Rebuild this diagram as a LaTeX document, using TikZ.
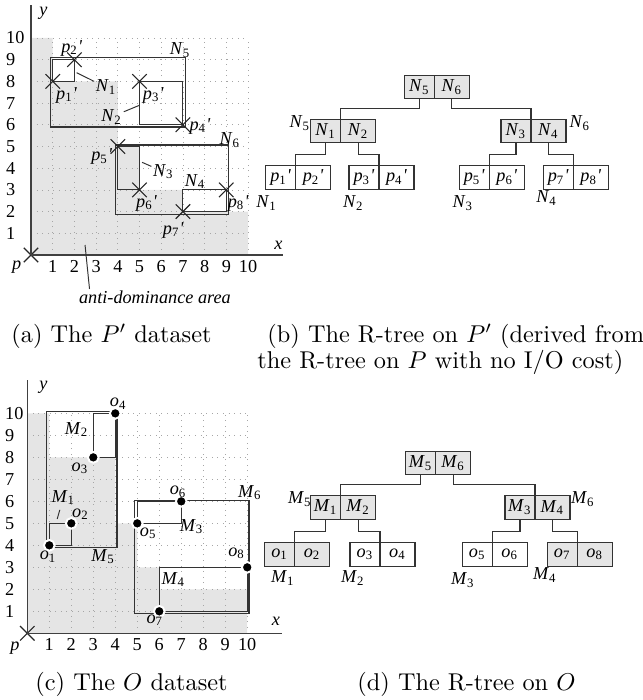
\documentclass[tikz,border=0pt]{standalone}
\usepackage{fontspec}
\newfontfamily\timesfont{Liberation Serif}
\usetikzlibrary{positioning,shapes.misc}
\newcommand\lab[2]{\textit{#1}\textsubscript{#2}}
\newcommand\lpr[1]{\textit{p}\textsubscript{#1}\textit{'}}

\begin{document}
\begin{tikzpicture}[x=0.4115pt, y=-0.4115pt,
    lbl/.style={font=\timesfont\fontsize{7.5}{9}\selectfont, inner sep=0.5pt},
    captext/.style={anchor=base west, inner sep=0pt},
    antidom/.style={fill=black!10},
    gridline/.style={black!35, dotted, line width=0.3pt, step=1},
    axis/.style={black!75, line width=0.5pt},
    mbr/.style={black!80, line width=0.45pt},
    lead/.style={black!80, line width=0.4pt},
    ptcross/.style={cross out, draw=black!85, line width=0.45pt, minimum size=5.5pt, inner sep=0pt},
    ptdot/.style={circle, fill=black, draw=white, line width=0.8pt, minimum size=4.4pt, inner sep=0pt},
    cell/.style={draw=black!80, line width=0.45pt, minimum height=9.7pt, inner sep=0pt, outer sep=0pt, lbl},
    cellL/.style={cell, minimum width=12.35pt},
    cellR/.style={cell, minimum width=14.4pt},
    conn/.style={black!80, line width=0.45pt}
  ]
  \useasboundingbox (0,0) rectangle (642,700);

  % (a) the P' dataset
  \begin{scope}[shift={(31,255)}, x=8.93pt, y=8.93pt]
    \fill[antidom] (0,0) -- (0,10) -- (1,10) -- (1,8) -- (4,8) -- (4,5) -- (5,5) -- (5,3)
      -- (7,3) -- (7,2) -- (10,2) -- (10,0) -- cycle;
    \draw[gridline] (0,0) grid (10,10);
    \node[ptcross] (origA) at (0,0) {};
    \draw[axis] (origA.center) -- (11.6,0);
    \draw[axis] (origA.center) -- (0,11.5);
    \node[lbl] (xlabA) at (11.4,0.46) {\textit{x}};
    \node[lbl] (ylabA) at (0.57,11.14) {\textit{y}};
    \node[lbl] (plabA) at (-0.66,-0.54) {\textit{p}};
    \foreach \i in {1,...,10} {
      \node[lbl] (xa\i) at (\i,-0.55) {\i};
      \node[lbl, anchor=west] (ya\i) at (-1.22,\i) {\i};
    }
    \foreach \i/\u/\v in {1/1/8, 2/2/9, 3/5/8, 4/7/6, 5/4/5, 6/5/3, 7/7/2, 8/9/3}
      \coordinate (p\i) at (\u,\v);
    \draw[mbr] (p1) rectangle (p2);
    \draw[mbr] (p3) rectangle (p4);
    \draw[mbr] (p5) rectangle (p6);
    \draw[mbr] (p7) rectangle (p8);
    \draw[mbr] (0.9,5.9) rectangle (7.1,9.1);
    \draw[mbr] (3.91,1.87) rectangle (9.08,5.07);
    \foreach \i in {1,...,8}
      \node[ptcross] (xp\i) at (p\i) {};
    \node[lbl] (lN5) at (6.87,9.45) {\lab{N}{5}};
    \node[lbl] (lN6) at (9.17,5.3) {\lab{N}{6}};
    \node[lbl] (lN1) at (3.46,7.73) {\lab{N}{1}};
    \node[lbl] (lN2) at (3.72,6.37) {\lab{N}{2}};
    \node[lbl] (lN3) at (6.1,3.84) {\lab{N}{3}};
    \node[lbl] (lN4) at (7.56,3.38) {\lab{N}{4}};
    \coordinate (eN1) at (2.1,8.4);
    \coordinate (eN2) at (5,6.9);
    \coordinate (eN3) at (5.12,4.27);
    \draw[lead] (eN1) -- (lN1);
    \draw[lead] (eN2) -- (lN2);
    \draw[lead] (eN3) -- (lN3);
    \node[lbl] (lp1) at (1.64,7.37) {\lpr{1}};
    \node[lbl] (lp2) at (1.88,9.53) {\lpr{2}};
    \node[lbl] (lp3) at (5.64,7.37) {\lpr{3}};
    \node[lbl] (lp4) at (7.79,5.94) {\lpr{4}};
    \node[lbl] (lp5) at (3.26,4.53) {\lpr{5}};
    \node[lbl] (lp6) at (5.33,2.38) {\lpr{6}};
    \node[lbl] (lp7) at (6.56,1.15) {\lpr{7}};
    \node[lbl] (lp8) at (9.55,2.38) {\lpr{8}};
    \coordinate (eAD) at (2.49,0.46);
    \node[lbl] (lAD) at (5.71,-1.94) {\textit{anti-dominance area}};
    \draw[lead] (eAD) -- ([xshift=5pt]lAD.north west);
  \end{scope}

  % (b) the R-tree on P'
  \node[cellL, fill=black!10] (tN5) at (419.3,87) {\lab{N}{5}};
  \node[cellR, fill=black!10, right=0pt of tN5] (tN6) {\lab{N}{6}};
  \node[cellL, fill=black!10] (tN1) at (325.7,131) {\lab{N}{1}};
  \node[cellR, fill=black!10, right=0pt of tN1] (tN2) {\lab{N}{2}};
  \node[cellL, fill=black!10] (tN3) at (516,131) {\lab{N}{3}};
  \node[cellR, fill=black!10, right=0pt of tN3] (tN4) {\lab{N}{4}};
  \node[cellL] (tp1) at (280.7,177.7) {\lpr{1}};
  \node[cellR, right=0pt of tp1] (tp2) {\lpr{2}};
  \node[cellL] (tp3) at (364,177.7) {\lpr{3}};
  \node[cellR, right=0pt of tp3] (tp4) {\lpr{4}};
  \node[cellL] (tp5) at (474.3,177.7) {\lpr{5}};
  \node[cellR, right=0pt of tp5] (tp6) {\lpr{6}};
  \node[cellL] (tp7) at (558.3,177.7) {\lpr{7}};
  \node[cellR, right=0pt of tp7] (tp8) {\lpr{8}};
  \draw[conn] (tN5.south) -- ++(0,10) -| (tN1.north east);
  \draw[conn] (tN6.south) -- ++(0,10) -| (tN3.north east);
  \draw[conn] (tN1.south) -- ++(0,12) -| (tp1.north east);
  \draw[conn] (tN2.south) -- ++(0,12) -| (tp3.north east);
  \draw[conn] (tN3.south) -- ++(0,12) -| (tp5.north east);
  \draw[conn] (tN4.south) -- ++(0,12) -| (tp7.north east);
  \node[lbl] (bN5) at (300,123) {\lab{N}{5}};
  \node[lbl] (bN6) at (580,123) {\lab{N}{6}};
  \node[lbl] (bN1) at (266.7,203) {\lab{N}{1}};
  \node[lbl] (bN2) at (353.3,203) {\lab{N}{2}};
  \node[lbl] (bN3) at (463,203) {\lab{N}{3}};
  \node[lbl] (bN4) at (546.7,198) {\lab{N}{4}};

  % (c) the O dataset
  \begin{scope}[shift={(27.3,633.3)}, x=9.05pt, y=9.05pt]
    \fill[antidom] (0,0) -- (0,10) -- (1,10) -- (1,8) -- (4,8) -- (4,5) -- (5,5) -- (5,3)
      -- (6,3) -- (6,2) -- (10,2) -- (10,0) -- cycle;
    \draw[gridline] (0,0) grid (10,10);
    \node[ptcross] (origC) at (0,0) {};
    \draw[axis] (origC.center) -- (11.6,0);
    \draw[axis] (origC.center) -- (0,11.5);
    \node[lbl] (xlabC) at (11.3,0.53) {\textit{x}};
    \node[lbl] (ylabC) at (0.73,11.2) {\textit{y}};
    \node[lbl] (plabC) at (-0.56,-0.68) {\textit{p}};
    \foreach \i in {1,...,10} {
      \node[lbl] (xc\i) at (\i,-0.53) {\i};
      \node[lbl, anchor=west] (yc\i) at (-1.08,\i) {\i};
    }
    \foreach \i/\u/\v in {1/1/4, 2/2/5, 3/3/8, 4/4/10, 5/5/5, 6/7/6, 7/6/1, 8/10/3}
      \coordinate (o\i) at (\u,\v);
    \draw[mbr] (o1) rectangle (o2);
    \draw[mbr] (o3) rectangle (o4);
    \draw[mbr] (o5) rectangle (o6);
    \draw[mbr] (o7) rectangle (o8);
    \draw[mbr] (0.88,3.92) rectangle (4.08,10.07);
    \draw[mbr] (4.88,0.9) rectangle (10.08,6.05);
    \foreach \i in {1,...,8}
      \node[ptdot] (dot\i) at (o\i) {};
    \node[lbl] (lo1) at (0.95,3.48) {\lab{o}{1}};
    \node[lbl] (lo2) at (2.42,5.42) {\lab{o}{2}};
    \node[lbl] (lo3) at (2.4,7.5) {\lab{o}{3}};
    \node[lbl] (lo4) at (4.14,10.45) {\lab{o}{4}};
    \node[lbl] (lo5) at (5.5,4.55) {\lab{o}{5}};
    \node[lbl] (lo6) at (6.86,6.44) {\lab{o}{6}};
    \node[lbl] (lo7) at (5.8,0.6) {\lab{o}{7}};
    \node[lbl] (lo8) at (9.52,3.64) {\lab{o}{8}};
    \node[lbl] (lM1) at (1.64,6.18) {\lab{M}{1}};
    \node[lbl] (lM2) at (2.25,9.27) {\lab{M}{2}};
    \node[lbl] (lM3) at (7.47,4.85) {\lab{M}{3}};
    \node[lbl] (lM4) at (6.64,2.45) {\lab{M}{4}};
    \node[lbl] (lM5) at (3.45,3.48) {\lab{M}{5}};
    \node[lbl] (lM6) at (10.12,6.4) {\lab{M}{6}};
    \coordinate (eM1) at (1.36,5.2);
    \draw[lead, shorten >=1.5pt] (eM1) -- (lM1);
  \end{scope}

  % (d) the R-tree on O
  \node[cellL, fill=black!10] (tM5) at (420.7,463) {\lab{M}{5}};
  \node[cellR, fill=black!10, right=0pt of tM5] (tM6) {\lab{M}{6}};
  \node[cellL, fill=black!10] (tM1) at (325.7,507.3) {\lab{M}{1}};
  \node[cellR, fill=black!10, right=0pt of tM1] (tM2) {\lab{M}{2}};
  \node[cellL, fill=black!10] (tM3) at (520,507.3) {\lab{M}{3}};
  \node[cellR, fill=black!10, right=0pt of tM3] (tM4) {\lab{M}{4}};
  \node[cellL, fill=black!10] (to1) at (279.7,554.3) {\lab{o}{1}};
  \node[cellR, fill=black!10, right=0pt of to1] (to2) {\lab{o}{2}};
  \node[cellL] (to3) at (365,554.3) {\lab{o}{3}};
  \node[cellR, right=0pt of to3] (to4) {\lab{o}{4}};
  \node[cellL] (to5) at (477.3,554.3) {\lab{o}{5}};
  \node[cellR, right=0pt of to5] (to6) {\lab{o}{6}};
  \node[cellL, fill=black!10] (to7) at (562.3,554.3) {\lab{o}{7}};
  \node[cellR, fill=black!10, right=0pt of to7] (to8) {\lab{o}{8}};
  \draw[conn] (tM5.south) -- ++(0,10) -| (tM1.north east);
  \draw[conn] (tM6.south) -- ++(0,10) -| (tM3.north east);
  \draw[conn] (tM1.south) -- ++(0,12) -| (to1.north east);
  \draw[conn] (tM2.south) -- ++(0,12) -| (to3.north east);
  \draw[conn] (tM3.south) -- ++(0,12) -| (to5.north east);
  \draw[conn] (tM4.south) -- ++(0,12) -| (to7.north east);
  \node[lbl] (dM5) at (300,499) {\lab{M}{5}};
  \node[lbl] (dM6) at (583,499) {\lab{M}{6}};
  \node[lbl] (dM1) at (283,578) {\lab{M}{1}};
  \node[lbl] (dM2) at (353,578) {\lab{M}{2}};
  \node[lbl] (dM3) at (463,580) {\lab{M}{3}};
  \node[lbl] (dM4) at (545,575) {\lab{M}{4}};

  % captions
  \node[captext] (capa) at (11,342) {(a) The $P'$ dataset};
  \node[captext] (capb1) at (267,342) {(b) The R-tree on $P'$ (derived from};
  \node[captext] (capb2) at (257,368) {the R-tree on $P$ with no I/O cost)};
  \node[captext] (capc) at (35,690) {(c) The $O$ dataset};
  \node[captext] (capd) at (357,690) {(d) The R-tree on $O$};
\end{tikzpicture}
\end{document}
